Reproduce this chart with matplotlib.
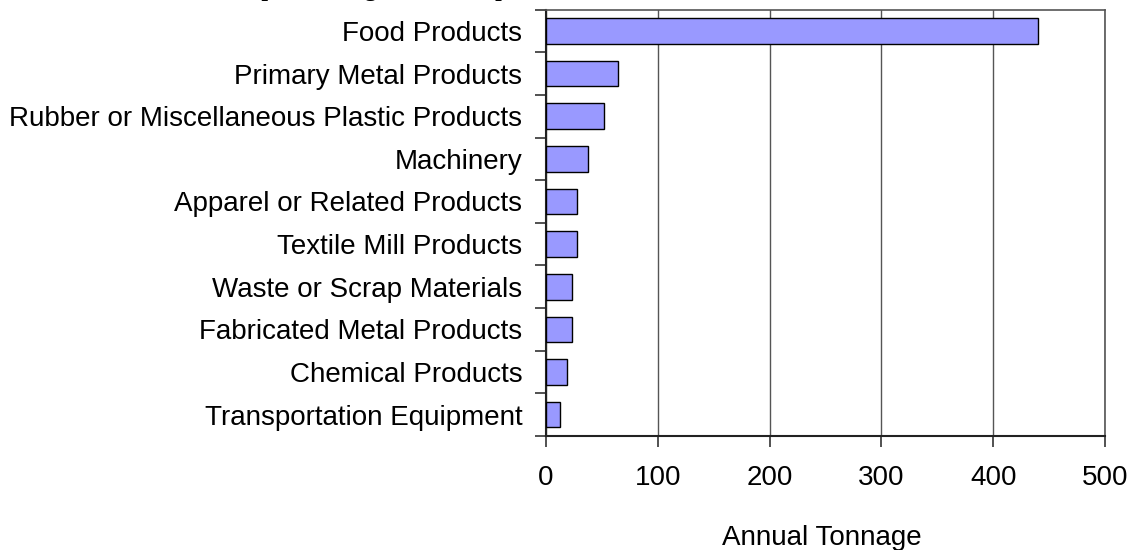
import numpy as np
import matplotlib.pyplot as plt

# Commodity groups and annual tonnage
categories = [
    "Food Products",
    "Primary Metal Products",
    "Rubber or Miscellaneous Plastic Products",
    "Machinery",
    "Apparel or Related Products",
    "Textile Mill Products",
    "Waste or Scrap Materials",
    "Fabricated Metal Products",
    "Chemical Products",
    "Transportation Equipment",
]
tonnage = [440, 64, 52, 38, 28, 28, 23, 23, 19, 13]
x_ticks = [0, 100, 200, 300, 400, 500]

title = "Top Ten Freight Items Imported"
xlabel = "Annual Tonnage"

plt.rcParams["font.family"] = ["Liberation Sans", "DejaVu Sans"]

fig = plt.figure(figsize=(11.28, 5.5), dpi=100)
ax = fig.add_axes([0.484, 0.2073, 0.4956, 0.7752])

y = np.arange(len(categories))
ax.barh(y, tonnage, height=0.6, color="#9999FF", edgecolor="black",
        linewidth=1.0, zorder=3)

ax.set_xlim(0, 500)
ax.set_ylim(len(categories) - 0.5, -0.5)

# vertical gridlines
ax.set_xticks(x_ticks)
ax.xaxis.grid(True, color="#555555", linewidth=1.0, zorder=0)
ax.tick_params(axis="x", direction="out", length=8, width=1.2,
               color="#333333", labelsize=20, pad=13)

# category labels centred, ticks at the boundaries
ax.set_yticks(y)
ax.set_yticklabels(categories)
ax.tick_params(axis="y", which="major", length=0, labelsize=20, pad=17)
ax.set_yticks(np.arange(len(categories) + 1) - 0.5, minor=True)
ax.tick_params(axis="y", which="minor", direction="out", length=8,
               width=1.2, color="#333333")

for side in ["left", "bottom"]:
    ax.spines[side].set_color("#222222")
    ax.spines[side].set_linewidth(1.5)
for side in ["right", "top"]:
    ax.spines[side].set_color("#555555")
    ax.spines[side].set_linewidth(1.2)

fig.text(822 / 1128, 5 / 550, xlabel, ha="center", va="baseline",
         fontsize=20)

# title sits mostly above the top edge
fig.text(236 / 1128, 1 + 4 / 550, title, ha="left", va="baseline",
         fontsize=17, fontweight="bold", family="Liberation Serif")

fig.savefig("out.png", dpi=100)
